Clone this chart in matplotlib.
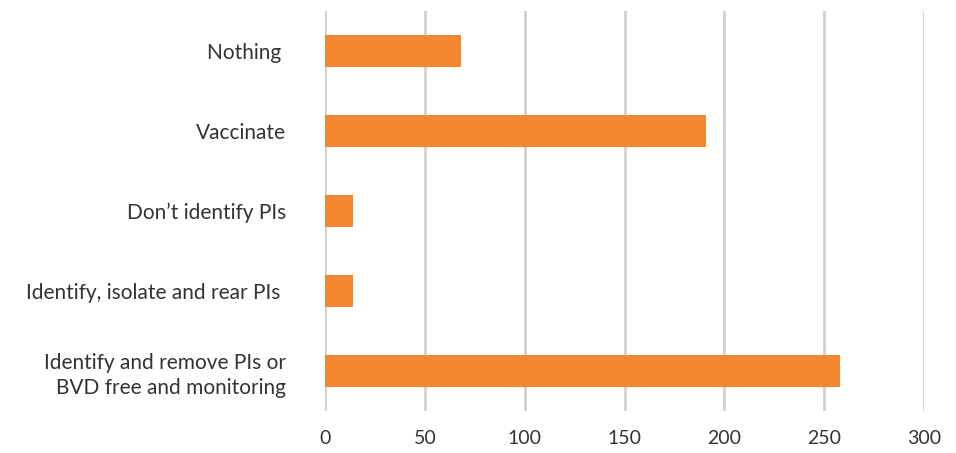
import matplotlib.pyplot as plt

categories = ['Nothing ', 'Vaccinate', 'Don\u2019t identify PIs', 'Identify, isolate and rear PIs ',
              'Identify and remove PIs or\nBVD free and monitoring']
values = [68, 191, 14, 14, 258]
ticks = [0, 50, 100, 150, 200, 250, 300]

plt.rcParams['font.family'] = ['Lato', 'DejaVu Sans']

fig = plt.figure(figsize=(9.56, 4.53), dpi=100)
ax = fig.add_axes([0.34, 0.0927, 0.6265, 0.883])

pos = list(range(len(categories)))
ax.barh(pos, values, height=0.4, color='#F28730', zorder=2)
ax.set_yticks(pos)
ax.set_yticklabels(categories, fontsize=15, color='#333333', ha='right', linespacing=1.3)
ax.invert_yaxis()
ax.set_ylim(4.5, -0.5)
ax.set_xlim(0, 300)
ax.set_xticks(ticks)
ax.set_xticklabels([str(t) for t in ticks], fontsize=14, color='#333333')
ax.xaxis.grid(True, color='#D0D0D0', linewidth=2, zorder=0)
ax.tick_params(axis='both', length=0)
ax.tick_params(axis='y', pad=28)
ax.tick_params(axis='x', pad=14)
for s in ax.spines.values():
    s.set_visible(False)

fig.savefig('out.png', dpi=100)
